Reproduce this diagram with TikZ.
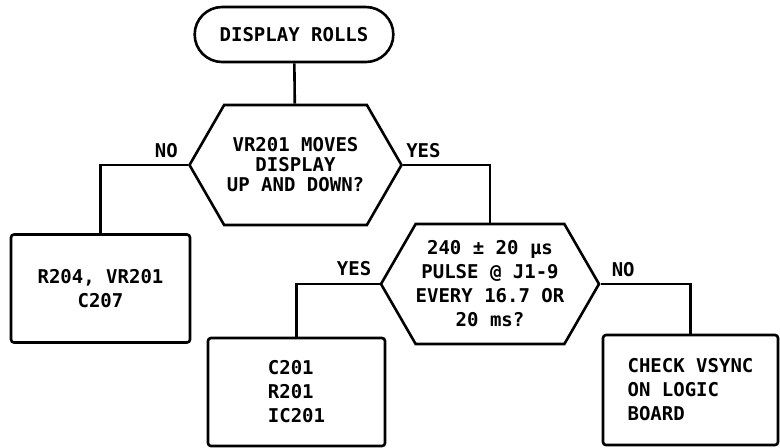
\documentclass[tikz,border=0pt]{standalone}
\usepackage{fontspec}
\setmonofont{DejaVu Sans Mono}
\usepackage{tikz}
\usetikzlibrary{positioning,shapes.misc,shapes.symbols}

\begin{document}
\begin{tikzpicture}[x=0.5pt,y=-0.5pt,line width=1.3pt,
  every node/.style={font=\ttfamily\bfseries\fontsize{9.5}{12}\selectfont,align=center},
  term/.style={draw,rounded rectangle,minimum width=106pt,minimum height=27.5pt},
  decision/.style={draw,signal,signal to=east and west,signal pointer angle=120,minimum width=106pt,minimum height=60pt,inner sep=0pt},
  action/.style={draw,rounded corners=1.5pt,minimum width=#1,minimum height=54pt},
  lbl/.style={inner sep=0pt}]
\useasboundingbox (0,0) rectangle (780,447);
\node[term] (start) at (294,34.5) {DISPLAY ROLLS};
\node[decision,font=\ttfamily\bfseries\fontsize{9.5}{10}\selectfont] (moves) at (295.5,165) {VR201 MOVES\\DISPLAY\\UP AND DOWN?};
\node[action=89.5pt] (pots) at (100.5,288.5) {R204, VR201\\C207};
\node[decision] (pulse) at (490,284) {240 ± 20 μs\\PULSE @ J1-9\\EVERY 16.7 OR\\20 ms?};
\node[action=88.5pt,align=left] (parts) at (296.5,392) {C201\\R201\\IC201};
\node[action=87.5pt,align=left,minimum height=55pt] (vsync) at (690.5,390) {CHECK VSYNC\\ON LOGIC\\BOARD};
\draw (start) -- (moves);
\draw (moves.west) -| (pots.north);
\draw (moves.east) -| (pulse.north);
\draw (pulse.west) -| (parts.north);
\draw (pulse.east) -| (vsync.north);
\node[lbl,above left=3pt and 4.5pt of moves.west] {NO};
\node[lbl,above right=3pt and 1pt of moves.east] {YES};
\node[lbl,above left=3.5pt and 3.5pt of pulse.west] {YES};
\node[lbl,above right=3pt and 5pt of pulse.east] {NO};
\end{tikzpicture}
\end{document}
